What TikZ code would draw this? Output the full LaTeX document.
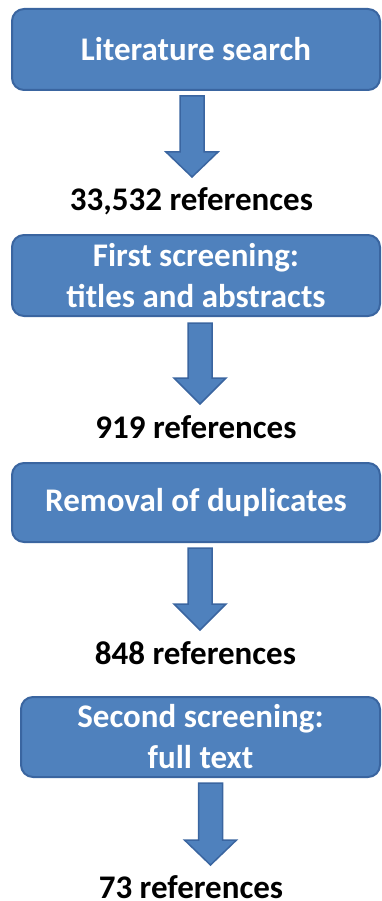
\documentclass[tikz,border=0pt]{standalone}
\usepackage{fontspec}
\setmainfont{Carlito}
\definecolor{boxblue}{HTML}{4F81BD}
\definecolor{boxedge}{HTML}{3A65A0}
\tikzset{
  box/.style={draw=boxedge, fill=boxblue, line width=2pt, rounded corners=12pt,
    text=white, font=\fontsize{33}{41}\selectfont\bfseries, align=center, inner sep=0pt},
  count/.style={text=black, font=\fontsize{33}{41}\selectfont\bfseries, inner sep=0pt, anchor=base},
  blockarrow/.style={draw=boxedge, fill=boxblue, line width=1.5pt, line join=miter}
}
\newcommand\downblock[5]{% name, cx, top, headstart, tip
  \coordinate (#1top) at (#2,#3);
  \coordinate (#1tip) at (#2,#5);
  \draw[blockarrow] ([xshift=-12pt]#1top) -- ([xshift=12pt]#1top) -- (#2+12,#4) -- (#2+26,#4) -- (#1tip) -- (#2-26,#4) -- (#2-12,#4) -- cycle;
}
\begin{document}
\begin{tikzpicture}[x=1pt,y=-1pt]
\useasboundingbox (0,0) rectangle (381,901);
\node[box, minimum width=368pt, minimum height=81pt] (b1) at (196,49.5) {Literature search};
\node[box, minimum width=368pt, minimum height=81pt] (b2) at (196,275.5) {First screening:\\titles and abstracts};
\node[box, minimum width=368pt, minimum height=79pt] (b3) at (196,502.5) {Removal of duplicates};
\node[box, minimum width=359pt, minimum height=80pt] (b4) at (200.5,737) {Second screening:\\full text};
\node[count] (t1) at (191.5,211) {33,532 references};
\node[count] (t2) at (196,438) {919 references};
\node[count] (t3) at (195.5,664) {848 references};
\node[count] (t4) at (191,898) {73 references};
\downblock{a1}{192}{96}{152}{177}
\downblock{a2}{200}{323}{378}{404}
\downblock{a3}{200}{548}{604}{630}
\downblock{a4}{210.5}{783}{840}{865}
\end{tikzpicture}
\end{document}
